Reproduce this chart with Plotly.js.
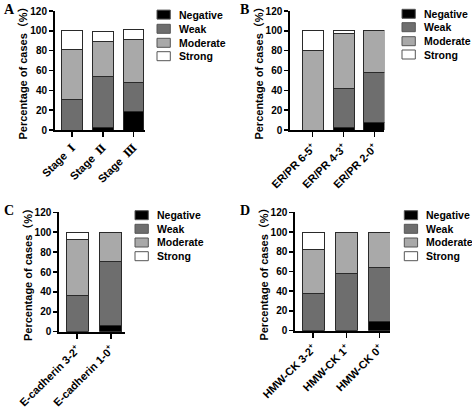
<!DOCTYPE html>
<html><head><meta charset="utf-8">
<script src="https://cdn.plot.ly/plotly-3.0.1.min.js"></script>
<style>html,body{margin:0;padding:0;background:#fff;}#chart{width:472px;height:407px;}</style>
</head><body><div id="chart"></div>
<script>
// ---- data ----
const seriesNames = ['Negative','Weak','Moderate','Strong'];
const seriesColors = ['#000000','#6e6e6e','#a9a9a9','#ffffff'];

const catsA = ['Stage Ⅰ','Stage Ⅱ','Stage Ⅲ'];
const negA = [0, 3, 19];
const weakA = [31, 51, 29];
const modA = [50, 35, 43];
const strongA = [19, 10, 10];

const catsB = ['ER/PR 6-5+','ER/PR 4-3+','ER/PR 2-0+'];
const negB = [0, 3, 8];
const weakB = [0, 39, 50];
const modB = [80, 55, 42];
const strongB = [20, 3, 0];

const catsC = ['E-cadherin 3-2+','E-cadherin 1-0+'];
const negC = [0, 6];
const weakC = [36, 65];
const modC = [57, 29];
const strongC = [7, 0];

const catsD = ['HMW-CK 3-2+','HMW-CK 1+','HMW-CK 0+'];
const negD = [0, 0, 9];
const weakD = [38, 58, 55];
const modD = [44, 42, 36];
const strongD = [18, 0, 0];

const panelLetters = ['A','B','C','D'];
const yTitle = 'Percentage of cases（%）';

// ---- layout helpers ----
const W = 472, H = 407;
const px = x => x / W;
const py = y => 1 - y / H;
const FONT = 'Arial, "Liberation Sans", "Noto Sans CJK SC", sans-serif';

// roman numerals drawn in a serif face, "+" raised as in the figure
const tickText = c => c
  .replace(/([Ⅰ-Ⅻ])/g, ' <span style="font-family:\'DejaVu Serif\',\'Noto Sans CJK SC\'">$1</span>')
  .replace(/\+/g, '<sup>+</sup>');

const panels = [
  {cats: catsA, vals: [negA, weakA, modA, strongA], ax: '', xl: 55, xr: 145, yt: 11, yb: 130, range: [-0.553, 2.374], width: 0.67,
   leg: {bx: 157, tx: 177, rows: [14.6, 28.8, 42.8, 56.2]}, letter: {x: 2, y: 9}},
  {cats: catsB, vals: [negB, weakB, modB, strongB], ax: '2', xl: 290.3, xr: 384.3, yt: 11, yb: 130, range: [-0.727, 2.32], width: 0.68,
   leg: {bx: 402, tx: 422, rows: [13.8, 27.2, 41.2, 54.5]}, letter: {x: 238, y: 9}},
  {cats: catsC, vals: [negC, weakC, modC, strongC], ax: '3', xl: 59.3, xr: 125, yt: 212.3, yb: 331.7, range: [-0.53, 1.42], width: 0.65,
   leg: {bx: 135, tx: 155, rows: [215.2, 228.8, 242.5, 256.2]}, letter: {x: 2, y: 210}},
  {cats: catsD, vals: [negD, weakD, modD, strongD], ax: '4', xl: 295.3, xr: 390, yt: 212.3, yb: 330.7, range: [-0.54, 2.31], width: 0.66,
   leg: {bx: 404.3, tx: 424.3, rows: [215.2, 228.8, 242.5, 256.2]}, letter: {x: 238, y: 210}}
];

const traces = [];
const layout = {
  width: W, height: H, margin: {l: 0, r: 0, t: 0, b: 0},
  paper_bgcolor: '#fff', plot_bgcolor: '#fff',
  barmode: 'stack', showlegend: false,
  font: {family: FONT, color: '#000'},
  shapes: [], annotations: []
};

panels.forEach((p, pi) => {
  const xa = 'x' + p.ax, ya = 'y' + p.ax;
  p.vals.forEach((v, si) => {
    traces.push({
      type: 'bar', x: p.cats, y: v, name: seriesNames[si],
      xaxis: xa, yaxis: ya, width: p.width,
      marker: {color: seriesColors[si], line: {color: '#2a2a2a', width: 1}},
      hoverinfo: 'skip'
    });
  });
  layout['xaxis' + p.ax] = {
    domain: [px(p.xl), px(p.xr)], anchor: ya, type: 'category',
    tickvals: p.cats, ticktext: p.cats.map(tickText),
    range: p.range, showline: true, linewidth: 2, linecolor: '#000',
    ticks: 'outside', ticklen: 5, tickwidth: 1.5, tickcolor: '#000',
    tickangle: -45, showgrid: false, zeroline: false,
    tickfont: {family: FONT, size: 11, color: '#000', weight: 'bold'}
  };
  layout['yaxis' + p.ax] = {
    domain: [py(p.yb), py(p.yt)], anchor: xa,
    range: [0, 120], dtick: 20, showline: true, linewidth: 2, linecolor: '#000',
    ticks: 'outside', ticklen: 4, tickwidth: 1.5, tickcolor: '#000',
    showgrid: false, zeroline: false,
    tickfont: {family: FONT, size: 10, color: '#000', weight: 'bold'},
    title: {text: yTitle, font: {family: FONT, size: 11, color: '#000', weight: 'bold'}, standoff: 0}
  };
  // legend (drawn in paper space)
  p.leg.rows.forEach((cy, si) => {
    layout.shapes.push({
      type: 'rect', xref: 'paper', yref: 'paper',
      x0: px(p.leg.bx), x1: px(p.leg.bx + 13.3), y0: py(cy + 4.5), y1: py(cy - 4.5),
      fillcolor: seriesColors[si], line: {color: '#555', width: 1}
    });
    layout.annotations.push({
      xref: 'paper', yref: 'paper', x: px(p.leg.tx), y: py(cy),
      xanchor: 'left', yanchor: 'middle', showarrow: false,
      text: seriesNames[si], font: {family: FONT, size: 10.5, color: '#000', weight: 'bold'}
    });
  });
  layout.annotations.push({
    xref: 'paper', yref: 'paper', x: px(p.letter.x), y: py(p.letter.y),
    xanchor: 'left', yanchor: 'middle', showarrow: false,
    text: '<b>' + panelLetters[pi] + '</b>',
    font: {family: '"Liberation Serif", "Times New Roman", serif', size: 14, color: '#000'}
  });
});

Plotly.newPlot('chart', traces, layout, {staticPlot: true, displayModeBar: false});
</script>
</body></html>
